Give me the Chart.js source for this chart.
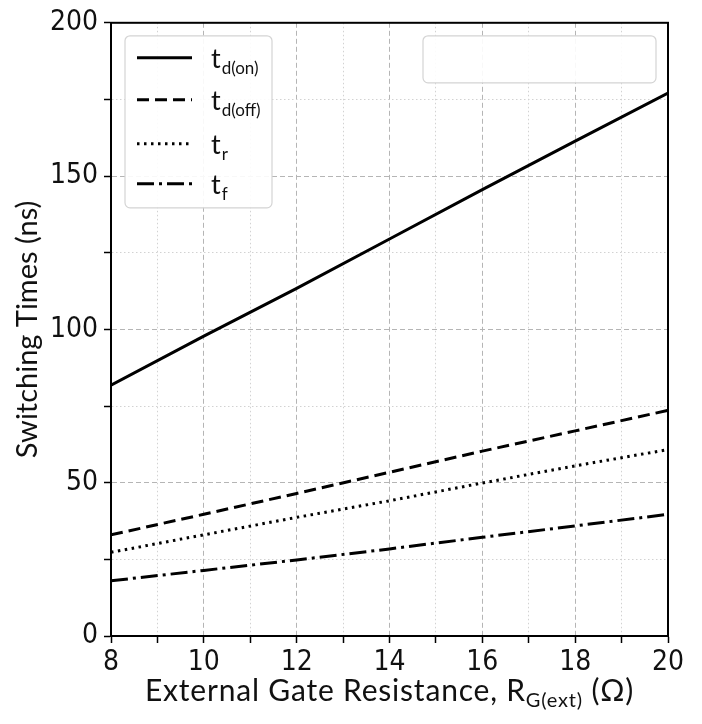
<!DOCTYPE html>
<html>
<head>
<meta charset="utf-8">
<script src="https://cdn.jsdelivr.net/npm/chart.js@4.4.1/dist/chart.umd.min.js"></script>
<style>
  html, body { margin: 0; padding: 0; background: #fff; }
  #wrap { width: 702px; height: 724px; }
</style>
</head>
<body>
<div id="wrap"><canvas id="c" width="702" height="724"></canvas></div>
<script>
// Schaltzeiten über externem Gate-Widerstand
const rg = [8, 10, 12, 14, 16, 18, 20];
const tdOn  = [81.8, 97.8, 113.4, 129.5, 145.6, 161.4, 177.1];
const tdOff = [33.0, 39.7, 46.5, 53.4, 60.3, 66.9, 73.6];
const tR    = [27.3, 33.0, 38.7, 44.1, 49.9, 55.5, 60.8];
const tF    = [18.0, 21.4, 24.8, 28.4, 32.2, 35.9, 39.7];

const legendMain = ["t", "t", "t", "t"];
const legendSub  = ["d(on)", "d(off)", "r", "f"];

const FONT = "Lato";
const TICKFONT = "'Liberation Sans Narrow', 'DejaVu Sans Condensed', Lato";
const INK = "#111";

const pts = (ys) => rg.map((x, i) => ({ x, y: ys[i] }));
const line = (label, ys, dash) => ({
  label, data: pts(ys), borderColor: "#000", borderWidth: 3,
  borderDash: dash, pointRadius: 0, fill: false, tension: 0,
});

// Rahmen, Legende mit Tiefstellung, leere Box, x-Titel
const decor = {
  id: "decor",
  afterDatasetsDraw(chart) {
    const { ctx, chartArea: a } = chart;
    ctx.save();
    ctx.strokeStyle = "#000";
    ctx.lineWidth = 2;
    ctx.strokeRect(a.left, a.top, a.right - a.left, a.bottom - a.top);

    const box = (x, y, w, h) => {
      ctx.beginPath();
      ctx.roundRect(x, y, w, h, 5);
      ctx.fillStyle = "rgba(255,255,255,0.9)";
      ctx.fill();
      ctx.strokeStyle = "#d4d4d4";
      ctx.lineWidth = 1.2;
      ctx.stroke();
    };

    // Legende
    const lx = a.left + 14, ly = a.top + 13;
    box(lx, ly, 147, 172);
    const rows = [22, 64, 108, 148];
    chart.data.datasets.forEach((ds, i) => {
      const y = ly + rows[i];
      ctx.beginPath();
      ctx.setLineDash(ds.borderDash || []);
      ctx.strokeStyle = "#000";
      ctx.lineWidth = 3;
      ctx.moveTo(lx + 12, y);
      ctx.lineTo(lx + 67, y);
      ctx.stroke();
      ctx.setLineDash([]);
      ctx.fillStyle = INK;
      ctx.textBaseline = "alphabetic";
      ctx.textAlign = "left";
      ctx.font = `27px ${FONT}`;
      ctx.fillText(legendMain[i], lx + 86, y + 10);
      const w = ctx.measureText(legendMain[i]).width;
      ctx.font = `17px ${FONT}`;
      ctx.fillText(legendSub[i], lx + 86 + w + 1, y + 16);
    });

    // leere Legendenbox oben rechts
    box(a.left + 312, ly, 233, 47);

    // x-Achsentitel
    ctx.letterSpacing = "0.8px";
    const parts = [
      { t: "External Gate Resistance, R", f: `30px ${FONT}`, dy: 0 },
      { t: "G(ext)", f: `20px ${FONT}`, dy: 6 },
      { t: " (\u03A9)", f: `30px ${FONT}`, dy: 0 },
    ];
    let tot = 0;
    parts.forEach(p => { ctx.font = p.f; p.w = ctx.measureText(p.t).width; tot += p.w; });
    let x = (a.left + a.right) / 2 - tot / 2;
    const base = 701;
    ctx.fillStyle = INK;
    parts.forEach(p => { ctx.font = p.f; ctx.fillText(p.t, x, base + p.dy); x += p.w; });
    ctx.restore();
  }
};

const gridDash = (major) => (c) => c.tick ? (major(c.tick.value) ? [5, 3] : [1.5, 2.5]) : [];
const gridColor = (major) => (c) => c.tick && major(c.tick.value) ? "#b5b5b5" : "#d2d2d2";
const xMajor = v => v % 2 === 0;
const yMajor = v => v % 50 === 0;

new Chart(document.getElementById("c"), {
  type: "line",
  data: {
    datasets: [
      line("t_d(on)", tdOn, []),
      line("t_d(off)", tdOff, [12, 6]),
      line("t_r", tR, [2.5, 4.5]),
      line("t_f", tF, [17, 5, 3, 5]),
    ]
  },
  options: {
    responsive: false, animation: false,
    layout: { padding: { top: 22, right: 34, left: 0, bottom: 0 } },
    plugins: { legend: { display: false }, tooltip: { enabled: false } },
    scales: {
      x: {
        type: "linear", min: 8, max: 20,
        afterFit: s => { s.height = 88; },
        ticks: {
          stepSize: 1, autoSkip: false, maxRotation: 0, padding: 3,
          color: INK, font: { family: TICKFONT, size: 28 },
          callback: v => xMajor(v) ? v : ""
        },
        grid: { color: gridColor(xMajor), lineWidth: 1, tickColor: "#000", tickLength: 7, tickWidth: 1.5 },
        border: { color: "#000", width: 2, dash: gridDash(xMajor) }
      },
      y: {
        min: 0, max: 200,
        afterFit: s => { s.width = 111; },
        title: { display: true, text: "Switching Times (ns)", color: INK, font: { family: FONT, size: 29 }, padding: { top: 10, bottom: 0 } },
        ticks: {
          stepSize: 25, autoSkip: false, padding: 6,
          color: INK, font: { family: TICKFONT, size: 28 },
          callback: v => yMajor(v) ? v : ""
        },
        grid: { color: gridColor(yMajor), lineWidth: 1, tickColor: "#000", tickLength: 7, tickWidth: 1.5 },
        border: { color: "#000", width: 2, dash: gridDash(yMajor) }
      }
    }
  },
  plugins: [decor]
});
</script>
</body>
</html>
